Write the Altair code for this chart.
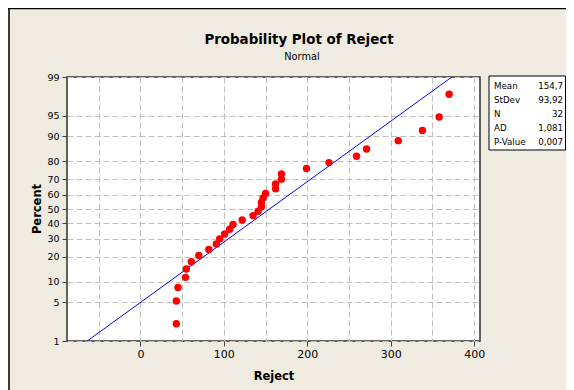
import statistics
import altair as alt
import pandas as pd

# ---- data ----
reject = [43, 43, 45, 54, 55, 61, 70, 82, 91, 95, 101, 107, 111, 122, 135, 141,
          145, 145, 147, 150, 162, 162, 169, 169, 199, 226, 259, 271, 309, 338, 358, 370]
percent = [2.16, 5.25, 8.33, 11.42, 14.51, 17.59, 20.68, 23.77, 26.85, 29.94, 33.02,
           36.11, 39.20, 42.28, 45.37, 48.46, 51.54, 54.63, 57.72, 60.80, 63.89, 66.98,
           70.06, 73.15, 76.23, 79.32, 82.41, 85.49, 88.58, 91.67, 94.75, 97.84]
mean_val = 154.7
sd_val = 93.92
stat_labels = ["Mean", "StDev", "N", "AD", "P-Value"]
stat_values = ["154,7", "93,92", "32", "1,081", "0,007"]
y_tick_pct = [1, 5, 10, 20, 30, 40, 50, 60, 70, 80, 90, 95, 99]
x_label_ticks = [0, 100, 200, 300, 400]
x_grid_ticks = [-50, 0, 50, 100, 150, 200, 250, 300, 350, 400]
x_domain = [-88, 407]

FONT = "DejaVu Sans"
GRID = "#BFBFBF"
nd = statistics.NormalDist()
y_tick_z = [nd.inv_cdf(p / 100) for p in y_tick_pct]

xs = alt.Scale(domain=x_domain, nice=False, zero=False)
ys = alt.Scale(domain=[y_tick_z[0], y_tick_z[-1]], nice=False, zero=False)

y_axis = alt.Axis(
    values=y_tick_z, labelExpr="format(cumulativeNormal(datum.value) * 100, '.0f')",
    grid=True, gridDash=[6, 3], gridColor=GRID, gridWidth=1, domain=False,
    tickSize=5, tickColor="#404040", tickWidth=1, labelFont=FONT, labelFontSize=9.5,
    labelColor="#000000", labelPadding=3,
    title="Percent", titleFont=FONT, titleFontSize=11.5, titleFontWeight="bold",
    titleColor="#000000", titleX=-27, titleY=131.5, titleAngle=-90,
    titleBaseline="alphabetic", titleAlign="center")

ends = pd.DataFrame({"Percent": [y_tick_pct[0], y_tick_pct[-1]]})
fit = alt.Chart(ends).transform_calculate(
    z="quantileNormal(datum.Percent / 100)"
).transform_calculate(
    xv=f"{mean_val} + {sd_val} * datum.z"
).mark_line(color="#0000FF", strokeWidth=1).encode(
    x=alt.X("xv:Q", scale=xs, axis=alt.Axis(
        orient="bottom", values=x_grid_ticks, grid=True, gridDash=[6, 3], gridColor=GRID,
        gridWidth=1, labels=False, ticks=False, domain=False, title=None)),
    y=alt.Y("z:Q", scale=ys, axis=y_axis),
)

pts = pd.DataFrame({"Reject": reject, "Percent": percent})
points = alt.Chart(pts).transform_calculate(
    z="quantileNormal(datum.Percent / 100)"
).mark_circle(size=55, color="#FF0000", opacity=1).encode(
    x=alt.X("Reject:Q", scale=xs, axis=alt.Axis(
        orient="bottom", values=x_label_ticks, grid=False, domain=False, tickSize=5,
        tickColor="#404040", tickWidth=1, labelFont=FONT, labelFontSize=11,
        labelColor="#000000", labelPadding=2,
        title="Reject", titleFont=FONT, titleFontSize=11.5, titleFontWeight="bold",
        titleColor="#000000", titleY=38, titleBaseline="alphabetic")),
    y=alt.Y("z:Q", scale=ys, axis=y_axis),
)

one = pd.DataFrame({"t": ["Probability Plot of Reject"], "s": ["Normal"]})
title = alt.Chart(one).mark_text(
    font=FONT, fontSize=13.4, fontWeight="bold", color="#000000", align="center",
    baseline="alphabetic").encode(text="t:N", x=alt.value(232), y=alt.value(-33))
subtitle = alt.Chart(one).mark_text(
    font=FONT, fontSize=9.8, color="#000000", align="center",
    baseline="alphabetic").encode(text="s:N", x=alt.value(235), y=alt.value(-17))

box = alt.Chart(one).mark_rect(fill="#FFFFFF", stroke="#000000", strokeWidth=1).encode(
    x=alt.value(422), x2=alt.value(498.5), y=alt.value(-1), y2=alt.value(73))

stats = pd.DataFrame({"label": stat_labels, "value": stat_values,
                      "row": list(range(len(stat_labels)))})
stat_base = alt.Chart(stats).transform_calculate(py="9 + 14 * datum.row")
stat_lab = stat_base.mark_text(font=FONT, fontSize=8.7, color="#000000", align="left",
                               baseline="middle").encode(
    text="label:N", x=alt.value(427), y=alt.Y("py:Q", scale=None, axis=None))
stat_val = stat_base.mark_text(font=FONT, fontSize=8.7, color="#000000", align="right",
                               baseline="middle").encode(
    text="value:N", x=alt.value(496), y=alt.Y("py:Q", scale=None, axis=None))

left_line = alt.Chart(one).mark_rule(color="#000000", strokeWidth=1.5).encode(
    x=alt.value(-58), y=alt.value(-69), y2=alt.value(313))
top_line = alt.Chart(one).mark_rule(color="#000000", strokeWidth=1.5).encode(
    x=alt.value(-59), x2=alt.value(499), y=alt.value(-68.5))

chart = alt.layer(
    fit, points, title, subtitle, box, stat_lab, stat_val, left_line, top_line
).resolve_axis(x="independent").properties(
    width=413, height=264,
    padding={"left": 59, "top": 69, "right": 86, "bottom": 49},
    autosize=alt.AutoSizeParams(type="none"),
).configure(background="#EFEBE1").configure_view(
    fill="#FFFFFF", stroke="#303030", strokeWidth=1.5)

chart.save("out.html", embed_options={"renderer": "svg", "actions": False})
